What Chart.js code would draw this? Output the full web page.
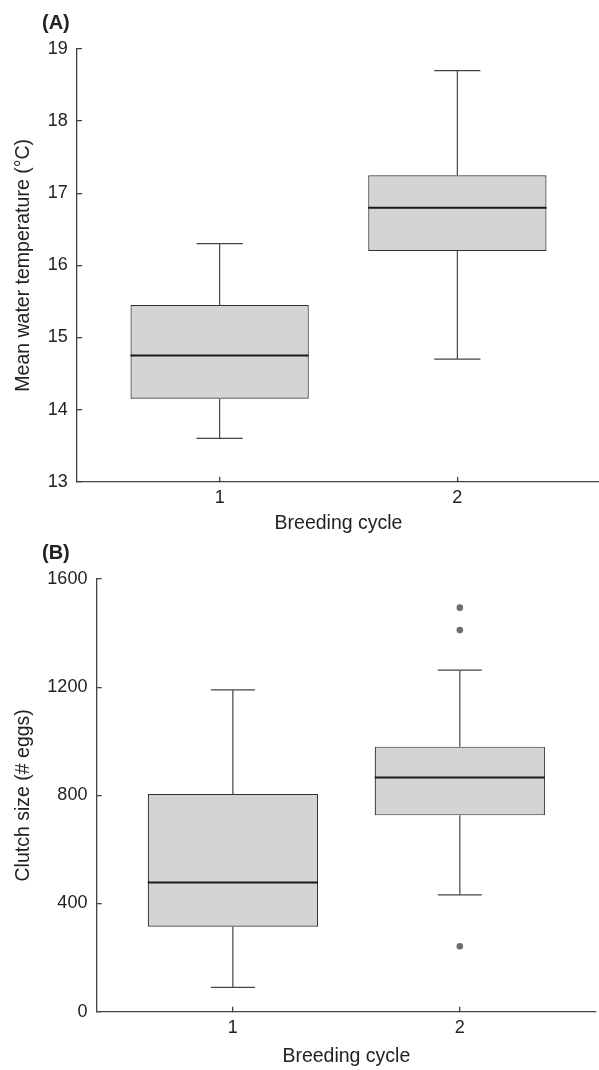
<!DOCTYPE html>
<html>
<head>
<meta charset="utf-8">
<script src="https://cdn.jsdelivr.net/npm/chart.js"></script>
<style>
  html, body { margin: 0; padding: 0; background: #fff; overflow: hidden; }
  canvas { display: block; }
</style>
</head>
<body>
<canvas id="chart-a" width="600" height="540"></canvas>
<canvas id="chart-b" width="600" height="530"></canvas>
<script>
// Breeding cycles on the x axis
const cycles = [1, 2];

// Panel A - mean water temperature (°C)
const tempMin = [13.6, 14.7];
const tempQ1 = [14.15, 16.2];
const tempMedian = [14.75, 16.8];
const tempQ3 = [15.45, 17.25];
const tempMax = [16.3, 18.7];
const tempOutliers = [[], []];
const tempTicks = [13, 14, 15, 16, 17, 18, 19];

// Panel B - clutch size (# eggs)
const clutchMin = [90, 432];
const clutchQ1 = [314, 726];
const clutchMedian = [478, 866];
const clutchQ3 = [805, 980];
const clutchMax = [1190, 1263];
const clutchOutliers = [[], [1494, 1411, 242]];
const clutchTicks = [0, 400, 800, 1200, 1600];

const BOX_HALF = 0.375;   // half box width, in x units
const CAP_HALF = 0.097;   // half whisker cap width
const FONT = '"Liberation Sans", Arial, Helvetica, sans-serif';
const INK = '#222';
const AXIS = '#444';

// draws the (A)/(B) panel tag above the y axis
const panelLabel = {
    id: 'panelLabel',
    afterDraw(chart, args, opts) {
        const { ctx, chartArea } = chart;
        ctx.save();
        ctx.font = 'bold 20px ' + FONT;
        ctx.fillStyle = INK;
        ctx.textBaseline = 'middle';
        ctx.fillText(opts.text, 42, chartArea.top - 25.5);
        ctx.restore();
    }
};

function boxDatasets(lo, q1, med, q3, hi, outliers) {
    const sets = [{
        type: 'bar',
        data: cycles.map((c, i) => ({ x: c, y: [q1[i], q3[i]] })),
        backgroundColor: '#d3d4d6',
        borderColor: '#333',
        borderWidth: 1.2,
        borderSkipped: false,
        barPercentage: BOX_HALF * 2,
        categoryPercentage: 1,
        order: 5
    }];
    const seg = (pts, color, width) => sets.push({
        type: 'line',
        data: pts,
        borderColor: color,
        borderWidth: width,
        pointRadius: 0,
        fill: false,
        order: 1
    });
    cycles.forEach((c, i) => {
        seg([{ x: c, y: q3[i] }, { x: c, y: hi[i] }], '#444', 1.2);
        seg([{ x: c, y: lo[i] }, { x: c, y: q1[i] }], '#444', 1.2);
        seg([{ x: c - CAP_HALF, y: hi[i] }, { x: c + CAP_HALF, y: hi[i] }], '#444', 1.3);
        seg([{ x: c - CAP_HALF, y: lo[i] }, { x: c + CAP_HALF, y: lo[i] }], '#444', 1.3);
        seg([{ x: c - BOX_HALF, y: med[i] }, { x: c + BOX_HALF, y: med[i] }], '#1a1a1a', 2);
    });
    const pts = [];
    cycles.forEach((c, i) => outliers[i].forEach(v => pts.push({ x: c, y: v })));
    if (pts.length) {
        sets.push({
            type: 'scatter',
            data: pts,
            pointRadius: 3.3,
            pointBackgroundColor: '#6e6e6e',
            pointBorderWidth: 0,
            order: 0
        });
    }
    return sets;
}

function makeChart(id, opts) {
    const ctx = document.getElementById(id).getContext('2d');
    return new Chart(ctx, {
        type: 'bar',
        data: { datasets: opts.datasets },
        options: {
            responsive: false,
            animation: false,
            events: [],
            layout: { padding: { top: opts.top, right: 0, bottom: 0, left: 0 } },
            plugins: {
                legend: { display: false },
                tooltip: { enabled: false },
                panelLabel: { text: opts.label }
            },
            scales: {
                x: {
                    type: 'linear',
                    min: 0.4,
                    max: 2.6,
                    offset: false,
                    afterBuildTicks: s => { s.ticks = cycles.map(v => ({ value: v })); },
                    afterFit: s => { s.height = 58.3; },
                    grid: { offset: false, drawOnChartArea: false, tickLength: -5, color: AXIS, lineWidth: 1.3 },
                    border: { color: AXIS, width: 1.3 },
                    ticks: {
                        color: INK, padding: 10.5, font: { family: FONT, size: 18 },
                        callback: v => String(v)
                    },
                    title: {
                        display: true,
                        text: 'Breeding cycle',
                        color: INK,
                        font: { family: FONT, size: 19.5 },
                        padding: { top: 0, bottom: opts.xTitlePad }
                    }
                },
                y: {
                    type: 'linear',
                    min: opts.ticks[0],
                    max: opts.ticks[opts.ticks.length - 1],
                    afterBuildTicks: s => { s.ticks = opts.ticks.map(v => ({ value: v })); },
                    afterFit: s => { s.width = opts.left; },
                    grid: { drawOnChartArea: false, tickLength: -5, color: AXIS, lineWidth: 1.3 },
                    border: { color: AXIS, width: 1.3 },
                    ticks: {
                        color: INK, padding: 14.3, font: { family: FONT, size: 18 },
                        callback: v => String(v)
                    },
                    title: {
                        display: true,
                        text: opts.yTitle,
                        color: INK,
                        font: { family: FONT, size: 19.5 },
                        padding: { top: 12.3, bottom: 0 }
                    }
                }
            }
        },
        plugins: [panelLabel]
    });
}

makeChart('chart-a', {
    label: '(A)',
    yTitle: 'Mean water temperature (°C)',
    ticks: tempTicks,
    top: 49,
    left: 77,
    xTitlePad: 4.3,
    datasets: boxDatasets(tempMin, tempQ1, tempMedian, tempQ3, tempMax, tempOutliers)
});

makeChart('chart-b', {
    label: '(B)',
    yTitle: 'Clutch size (# eggs)',
    ticks: clutchTicks,
    top: 39,
    left: 96.7,
    xTitlePad: 1.3,
    datasets: boxDatasets(clutchMin, clutchQ1, clutchMedian, clutchQ3, clutchMax, clutchOutliers)
});
</script>
</body>
</html>
